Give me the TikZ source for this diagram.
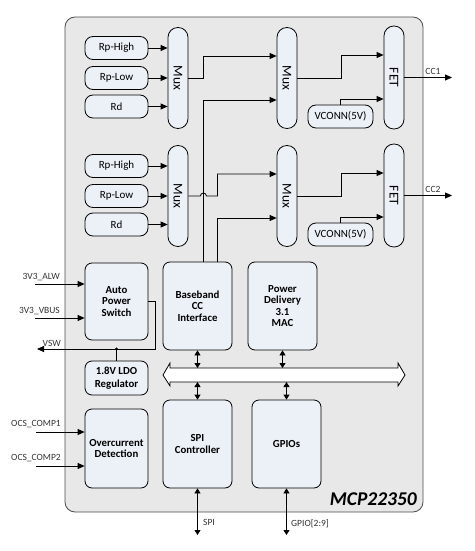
\documentclass[tikz,border=0pt]{standalone}
\usepackage{fontspec}
\setmainfont{Carlito}
\usepackage{graphicx}
\usetikzlibrary{arrows.meta}
\definecolor{chipgray}{RGB}{232,232,232}
\definecolor{blkfill}{RGB}{236,240,247}
\tikzset{
    blk/.style={draw, fill=blkfill, rounded corners=7pt, line width=0.8pt, inner sep=0pt, align=center,
        minimum width=69pt, minimum height=88pt, font=\fontsize{10.8}{11.5}\selectfont\bfseries}, % 功能模块
    res/.style={draw, fill=blkfill, rounded corners=8pt, line width=0.8pt, inner sep=0pt,
        minimum width=63pt, minimum height=23pt, font=\fontsize{11}{12}\selectfont}, % 小圆角框
    pill/.style={draw, fill=blkfill, rounded corners=9.8pt, line width=0.8pt, inner sep=0pt,
        minimum width=20pt, minimum height=101pt, font=\fontsize{13.5}{14}\selectfont}, % Mux / FET
    wire/.style={line width=0.8pt, -{Triangle[length=7pt,width=6pt]}},
    bidir/.style={line width=0.8pt, {Triangle[length=5pt,width=6pt]}-{Triangle[length=5pt,width=6pt]}},
    lbl/.style={font=\fontsize{9.5}{10}\selectfont, text=black!80, inner sep=0pt}
}
\begin{document}
\begin{tikzpicture}[x=1pt, y=-1pt]
    \useasboundingbox (0,0) rectangle (474,551);
    % 芯片外框
    \draw[draw=black!70, fill=chipgray, rounded corners=10pt, line width=0.8pt] (65,17) rectangle (423,512);

    % 两组 CC 通道
    \foreach \g/\dy in {1/0, 2/118} {
        \node[res] (rph\g) at (116.5,48+\dy) {Rp-High};
        \node[res] (rpl\g) at (116.5,78+\dy) {Rp-Low};
        \node[res] (rd\g) at (116.5,106.5+\dy) {Rd};
        \node[pill] (muxa\g) at (178,78+\dy) {\rotatebox{-90}{Mux}};
        \node[pill] (muxb\g) at (287,78+\dy) {\rotatebox{-90}{Mux}};
        \node[pill, minimum height=103pt] (fet\g) at (394,77.5+\dy) {\rotatebox{-90}{FET}};
        \node[res, minimum width=65pt] (vconn\g) at (340.5,116.5+\dy) {VCONN(5V)};
        \coordinate (cc\g) at (452,77.5+\dy);
        \foreach \n in {rph,rpl,rd} {\draw[wire] (\n\g.east) -- (\n\g.east -| muxa\g.west);}
        \draw[wire] (muxb\g.east) -- ++(44,0) |- ([yshift=22.5pt]fet\g.west);
        \draw[wire] (vconn\g.north) |- ([yshift=-21.5pt]fet\g.west);
        \draw[wire] (fet\g.east) -- (cc\g) node[lbl, pos=0.6, above=3pt] {CC\g};
    }

    \node[blk, minimum width=63pt, minimum height=77pt] (aps) at (116.5,301.5) {Auto\\Power\\Switch};
    \node[blk, minimum width=63pt, minimum height=34pt] (ldo) at (116.5,378) {1.8V LDO\\[2pt]Regulator};
    \node[blk] (bb) at (197.5,306) {Baseband\\CC\\Interface};
    \node[blk] (pd) at (282.5,306) {Power\\Delivery\\3.1\\MAC};
    \node[blk, minimum width=63pt, minimum height=79pt] (ocd) at (116.5,448.5) {Overcurrent\\Detection};
    \node[blk] (spi) at (197.5,444) {SPI\\Controller};
    \node[blk] (gpio) at (286.5,444) {GPIOs};

    % Mux 之间的连线
    \draw[wire] (muxa1.east) -- ++(15,0) |- ([yshift=22pt]muxb1.west);
    \draw[wire] ([xshift=5.5pt]bb.north) |- ([yshift=-22pt]muxb1.west);
    \draw[wire] (muxa2.east) -- ++(12,0) arc[start angle=180, end angle=360, radius=3] -- ++(11,0) |- ([yshift=22pt]muxb2.west);
    \draw[wire] ([xshift=19.5pt]bb.north) |- ([yshift=-22pt]muxb2.west);

    % 内部总线
    \draw[fill=white, line width=0.8pt] (163,375) -- (170,363) -- (170,368) -- (398,368) -- (398,363) -- (405,375)
        -- (398,386) -- (398,382) -- (170,382) -- (170,386) -- cycle;
    \coordinate (busT) at (0,368); \coordinate (busB) at (0,382);
    \draw[bidir] (bb.south) -- (bb.south |- busT);
    \draw[bidir] (pd.south) -- (pd.south |- busT);
    \draw[bidir] (spi.north) -- (spi.north |- busB);
    \draw[bidir] (gpio.north) -- (gpio.north |- busB);

    % 外部引脚
    \coordinate (alw) at (35,284); \coordinate (vbus) at (35,318); \coordinate (vsw) at (37,349);
    \coordinate (ocs1) at (36,432); \coordinate (ocs2) at (36,466);
    \coordinate (spiio) at (197.5,535); \coordinate (gpioio) at (286.5,535);
    \draw[wire] (alw) -- (alw -| aps.west);
    \draw[wire] (vbus) -- (vbus -| aps.west);
    \draw[wire] (aps.east) -- ++(7,0) |- (vsw);
    \draw[line width=0.8pt] (ldo.north) -- (ldo.north |- vsw);
    \fill (ldo.north |- vsw) circle[radius=1.6pt];
    \draw[wire] (ocs1) -- (ocs1 -| ocd.west);
    \draw[wire] (ocs2) -- (ocs2 -| ocd.west);
    \draw[bidir] (spi.south) -- (spiio);
    \draw[bidir] (gpio.south) -- (gpioio);

    \node[lbl, anchor=east] at (60,277) {3V3\_ALW};
    \node[lbl, anchor=east] at (60,311) {3V3\_VBUS};
    \node[lbl, anchor=east] at (61,343) {VSW};
    \node[lbl, anchor=east] at (61,424) {OCS\_COMP1};
    \node[lbl, anchor=east] at (61,458) {OCS\_COMP2};
    \node[lbl, anchor=west] at (203,522) {SPI};
    \node[lbl, anchor=west] at (291,524) {GPIO[2:9]};
    \node[font=\fontsize{19.5}{20}\selectfont\bfseries\itshape, anchor=base east, inner sep=0pt] at (417,505) {MCP22350};
\end{tikzpicture}
\end{document}
